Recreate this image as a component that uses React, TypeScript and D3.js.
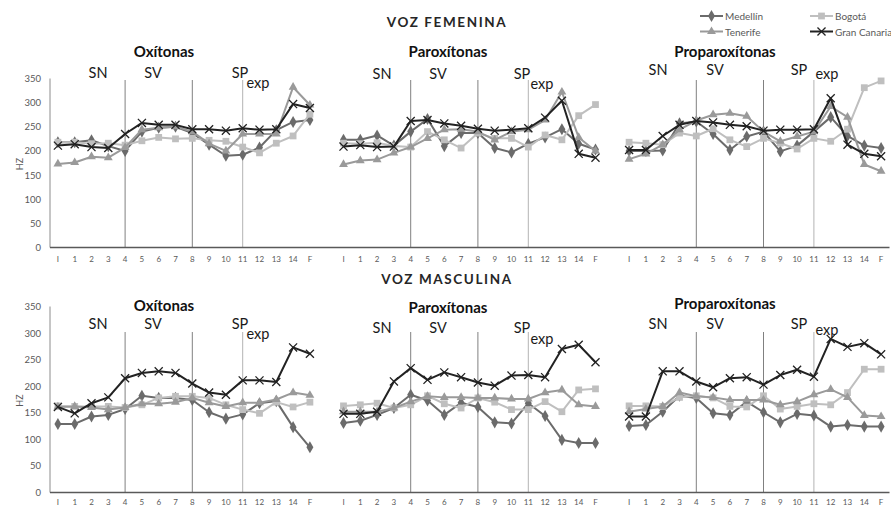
import React from 'react';
import * as d3 from 'd3';

// Word-stress groups and measurement points along each utterance
const groupNames = ['Oxítonas', 'Paroxítonas', 'Proparoxítonas'];
const pointLabels = ['I', '1', '2', '3', '4', '5', '6', '7', '8', '9', '10', '11', '12', '13', '14', 'F'];
const sectionLabels = ['SN', 'SV', 'SP'];
const dividerPoints = ['4', '8', '11'];
const yTicks = [0, 50, 100, 150, 200, 250, 300, 350];
const seriesNames = ['Medellín', 'Bogotá', 'Tenerife', 'Gran Canaria'];

// F0 (Hz), female voice: Oxítonas | Paroxítonas | Proparoxítonas
const femMedellin = [
  218, 218, 222, 210, 200, 240, 248, 250, 237, 213, 190, 192, 207, 243, 260, 264,
  223, 223, 232, 211, 240, 266, 210, 237, 237, 206, 197, 215, 228, 245, 215, 203,
  200, 200, 201, 257, 261, 235, 202, 230, 240, 199, 211, 240, 270, 231, 211, 206,
];
const femBogota = [
  218, 218, 215, 216, 212, 221, 228, 225, 226, 222, 220, 208, 196, 216, 231, 276,
  216, 215, 217, 210, 208, 240, 223, 206, 237, 226, 226, 208, 233, 223, 273, 296,
  218, 216, 213, 237, 231, 246, 223, 209, 226, 216, 204, 226, 220, 245, 331, 345,
];
const femTenerife = [
  173, 176, 188, 186, 207, 244, 248, 250, 240, 215, 200, 235, 235, 235, 332, 295,
  172, 180, 182, 196, 208, 226, 244, 245, 240, 223, 240, 244, 264, 322, 228, 200,
  183, 194, 213, 244, 263, 275, 278, 272, 240, 220, 230, 240, 292, 270, 172, 158,
];
const femGranCanaria = [
  211, 214, 208, 206, 235, 258, 254, 254, 245, 245, 242, 247, 244, 245, 297, 289,
  209, 212, 208, 209, 262, 264, 257, 252, 246, 242, 244, 247, 269, 304, 194, 186,
  202, 202, 231, 254, 262, 259, 254, 251, 242, 244, 244, 245, 309, 213, 194, 189,
];

// F0 (Hz), male voice
const mascMedellin = [
  129, 129, 143, 146, 157, 182, 178, 178, 174, 151, 139, 147, 168, 172, 123, 85,
  131, 135, 146, 159, 184, 173, 146, 169, 161, 132, 130, 168, 144, 99, 93, 93,
  125, 127, 152, 182, 178, 149, 146, 171, 151, 132, 148, 145, 124, 127, 124, 124,
];
const mascBogota = [
  163, 162, 162, 162, 160, 165, 178, 181, 181, 178, 165, 156, 149, 170, 161, 170,
  163, 165, 168, 159, 165, 182, 167, 159, 178, 170, 156, 156, 171, 152, 193, 195,
  163, 163, 162, 179, 182, 178, 162, 161, 182, 157, 162, 167, 165, 188, 232, 232,
];
const mascTenerife = [
  161, 162, 160, 156, 160, 167, 167, 170, 178, 169, 162, 169, 169, 175, 188, 183,
  152, 152, 152, 159, 171, 181, 179, 179, 178, 178, 176, 176, 188, 193, 165, 162,
  152, 157, 162, 188, 181, 179, 174, 174, 174, 165, 171, 184, 194, 179, 145, 143,
];
const mascGranCanaria = [
  161, 149, 168, 179, 215, 225, 228, 225, 205, 188, 184, 211, 211, 208, 273, 261,
  148, 148, 152, 209, 234, 212, 226, 217, 207, 201, 220, 221, 217, 270, 278, 245,
  143, 143, 228, 228, 209, 198, 215, 217, 203, 221, 231, 218, 289, 274, 281, 260,
];

const W = 891;
const H = 507;
const FONT = "Lato, 'Open Sans', 'DejaVu Sans', sans-serif";

type SeriesStyle = { color: string; symbol: d3.SymbolType; size: number; stroke?: boolean };
const styles: SeriesStyle[] = [
  { color: '#6b6b6b', symbol: d3.symbolDiamond, size: 42 },
  { color: '#bfbfbf', symbol: d3.symbolSquare, size: 46 },
  { color: '#9a9a9a', symbol: d3.symbolTriangle, size: 34 },
  { color: '#222222', symbol: d3.symbolX, size: 44, stroke: true },
];

// One slot per point, plus an empty slot between stress groups
type Slot = { key: string; label: string; group: number; index: number };
const slots: Slot[] = [];
groupNames.forEach((_, g) => {
  pointLabels.forEach((lab, i) => slots.push({ key: `${g}-${i}`, label: lab, group: g, index: i }));
  if (g < groupNames.length - 1) slots.push({ key: `gap-${g}`, label: '', group: -1, index: -1 });
});

const x = d3.scaleBand<string>().domain(slots.map((s) => s.key)).range([49.5, 889.5]);
const cx = (key: string) => (x(key) ?? 0) + x.bandwidth() / 2;
const slotPos = (g: number, i: number) => cx(`${g}-${i}`);

type Annot = { sn: number; sv: number; sp: number; exp: number; y: number; expY: number };
type Row = {
  title: string;
  titleY: number;
  yBottom: number;
  yTop: number;
  dividerTop: number;
  labelY: number;
  groupTitleY: number[];
  annots: Annot[];
  series: number[][];
};

const rows: Row[] = [
  {
    title: 'VOZ FEMENINA',
    titleY: 22,
    yBottom: 247.5,
    yTop: 78.5,
    dividerTop: 80,
    labelY: 259,
    groupTitleY: [51, 51, 51],
    annots: [
      { sn: 98, sv: 153, sp: 240, exp: 258, y: 72, expY: 82 },
      { sn: 382, sv: 438, sp: 522, exp: 542, y: 73, expY: 83 },
      { sn: 658, sv: 715, sp: 799, exp: 827, y: 69, expY: 73 },
    ],
    series: [femMedellin, femBogota, femTenerife, femGranCanaria],
  },
  {
    title: 'VOZ MASCULINA',
    titleY: 279,
    yBottom: 492.5,
    yTop: 306.5,
    dividerTop: 332,
    labelY: 501.5,
    groupTitleY: [305, 307, 303],
    annots: [
      { sn: 98, sv: 153, sp: 240, exp: 258, y: 323, expY: 333 },
      { sn: 382, sv: 438, sp: 522, exp: 542, y: 327, expY: 338 },
      { sn: 658, sv: 715, sp: 799, exp: 827, y: 323, expY: 329 },
    ],
    series: [mascMedellin, mascBogota, mascTenerife, mascGranCanaria],
  },
];

function Marker({ s, px, py }: { s: SeriesStyle; px: number; py: number }) {
  const d = d3.symbol().type(s.symbol).size(s.size)() ?? '';
  return s.stroke ? (
    <path d={d} transform={`translate(${px},${py})`} fill="none" stroke={s.color} strokeWidth={1.3} />
  ) : (
    <path d={d} transform={`translate(${px},${py})`} fill={s.color} />
  );
}

function RowChart({ row }: { row: Row }) {
  const y = d3.scaleLinear().domain([0, 350]).range([row.yBottom, row.yTop]);
  const axisLeft = x.range()[0] + 0.5;
  const axisRight = x.range()[1];

  return (
    <g>
      <text x={447} y={row.titleY} textAnchor="middle" dominantBaseline="central" fontFamily={FONT}
        fontWeight={700} fontSize={13.5} letterSpacing={1.6} fill="#262626">
        {row.title}
      </text>

      {/* y axis */}
      <line x1={axisLeft} x2={axisLeft} y1={row.yTop} y2={row.yBottom} stroke="#8c8c8c" strokeWidth={1} />
      {yTicks.map((t) => (
        <text key={t} x={41} y={y(t)} textAnchor="end" dominantBaseline="central" fontFamily={FONT}
          fontSize={9.5} fill="#595959">
          {t}
        </text>
      ))}
      <text transform={`translate(19,${(row.yTop + row.yBottom) / 2 + 1}) rotate(-90)`} textAnchor="middle"
        dominantBaseline="central" fontFamily={FONT} fontSize={9} fill="#595959">
        HZ
      </text>

      {/* section dividers */}
      {groupNames.map((_, g) =>
        dividerPoints.map((p, j) => {
          const px = slotPos(g, pointLabels.indexOf(p));
          return (
            <line key={`${g}-${p}`} x1={px} x2={px} y1={row.dividerTop} y2={row.yBottom}
              stroke={j === 2 ? '#b3b3b3' : '#808080'} strokeWidth={1} />
          );
        })
      )}

      {/* x axis */}
      <line x1={axisLeft} x2={axisRight} y1={row.yBottom} y2={row.yBottom} stroke="#595959" strokeWidth={1.5} />
      {slots.filter((s) => s.group >= 0).map((s) => (
        <text key={s.key} x={cx(s.key)} y={row.labelY} textAnchor="middle" dominantBaseline="central"
          fontFamily={FONT} fontSize={8} fill="#595959">
          {s.label}
        </text>
      ))}

      {/* group titles and section labels */}
      {groupNames.map((name, g) => {
        const a = row.annots[g];
        return (
          <g key={name} fontFamily={FONT}>
            <text x={[164, 448, 725][g]} y={row.groupTitleY[g]} textAnchor="middle" dominantBaseline="central"
              fontWeight={700} fontSize={15} fill="#111">
              {name}
            </text>
            {sectionLabels.map((lab, k) => (
              <text key={lab} x={[a.sn, a.sv, a.sp][k]} y={a.y} textAnchor="middle" dominantBaseline="central"
                fontSize={14.5} fill="#1a1a1a">
                {lab}
              </text>
            ))}
            <text x={a.exp} y={a.expY} textAnchor="middle" dominantBaseline="central" fontSize={14.5} fill="#1a1a1a">
              exp
            </text>
          </g>
        );
      })}

      {/* series */}
      {row.series.map((values, si) => {
        const s = styles[si];
        const pts = groupNames.map((_, g) =>
          pointLabels.map((__, i) => [slotPos(g, i), y(values[g * pointLabels.length + i])] as [number, number])
        );
        const line = d3.line();
        return (
          <g key={si}>
            {pts.map((gp, g) => (
              <path key={g} d={line(gp) ?? ''} fill="none" stroke={s.color} strokeWidth={2} strokeLinejoin="round" />
            ))}
            {pts.flat().map((p, k) => (
              <Marker key={k} s={s} px={p[0]} py={p[1]} />
            ))}
          </g>
        );
      })}
    </g>
  );
}

function Legend() {
  const items = [
    { i: 0, x: 700, y: 16 },
    { i: 1, x: 810, y: 16 },
    { i: 2, x: 700, y: 31.5 },
    { i: 3, x: 810, y: 31.5 },
  ];
  return (
    <g>
      {items.map(({ i, x: lx, y: ly }) => {
        const s = styles[i];
        return (
          <g key={i}>
            <line x1={lx} x2={lx + 23} y1={ly} y2={ly} stroke={s.color} strokeWidth={2} />
            <Marker s={s} px={lx + 11.5} py={ly} />
            <text x={lx + 25} y={ly} dominantBaseline="central" fontFamily={FONT} fontSize={10} fill="#595959">
              {seriesNames[i]}
            </text>
          </g>
        );
      })}
    </g>
  );
}

export default function App() {
  return (
    <svg width={W} height={H} viewBox={`0 0 ${W} ${H}`}
      style={{ position: 'absolute', left: 0, top: 0, background: '#fff' }}>
      <rect width={W} height={H} fill="#fff" />
      {rows.map((r) => (
        <RowChart key={r.title} row={r} />
      ))}
      <Legend />
    </svg>
  );
}
